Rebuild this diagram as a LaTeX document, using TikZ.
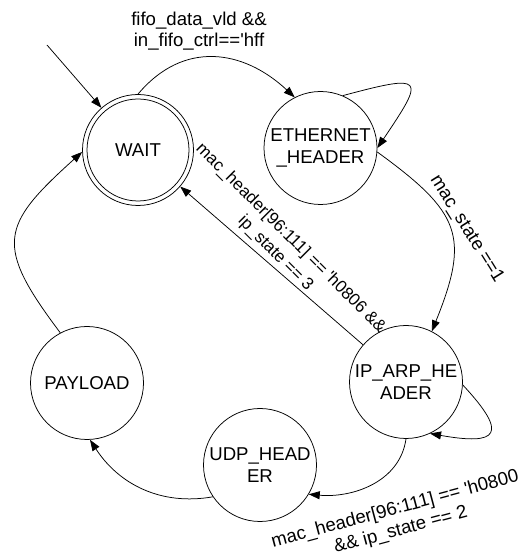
\documentclass[tikz,border=0pt]{standalone}
\usepackage{fontspec}
\setmainfont{Liberation Sans}
\usetikzlibrary{arrows.meta}
\begin{document}
\begin{tikzpicture}[x=1pt,y=1pt,
  state/.style={circle,draw,line width=0.75pt,minimum size=113pt,inner sep=0pt,
    align=center,font=\fontsize{18.6}{21.6}\selectfont},
  trans/.style={line width=0.75pt,-{Triangle[length=11pt,width=8pt]}},
  lbl/.style={inner sep=0pt,align=center,font=\fontsize{18.6}{21.6}\selectfont}]
\useasboundingbox (0,0) rectangle (521,555);

% states
\node[state,minimum size=111pt] (wait) at (138,405) {WAIT};
\draw[line width=0.75pt] (wait.center) circle[radius=51pt];
\node[state] (eth) at (320.5,407) {ETHERNET\\\_HEADER};
\node[state] (ip) at (406,173) {IP\_ARP\_HE\\ADER};
\node[state] (udp) at (260,90) {UDP\_HEAD\\ER};
\node[state] (pay) at (87,172) {PAYLOAD};

% initial transition
\coordinate (init) at (47,510);
\draw[trans] (init) -- (wait);

% transitions
\draw[trans] (wait.90) to[out=50,in=137,looseness=1.15] (eth.117);
\draw[trans] (eth.67) to[out=15,in=56,looseness=3.5] (eth.0);
\draw[trans] (eth.-4) to[out=-36,in=68,looseness=1.4] (ip.63);
\draw[trans] (ip) -- (wait);
\draw[trans] (ip.-3) to[out=-47,in=-10,looseness=3] (ip.-65);
\draw[trans] (ip.-90) to[out=-98,in=-5] (udp.-31);
\draw[trans] (udp.-146) to[out=190,in=-57] (pay.-87);
\draw[trans] (pay.118) to[out=127,in=-138,looseness=1.55] (wait.182);

% transition conditions
\node[lbl] (c1) at (199,524) {fifo\_data\_vld \&\&\\in\_fifo\_ctrl==\textquotesingle hff};
\node[lbl,rotate=-58] (c2) at (466.5,326) {mac\_state ==1};
\node[lbl,rotate=-45,font=\fontsize{17}{21.6}\selectfont] (c3) at (283,309)
  {mac\_header[96:111] == \textquotesingle h0806 \&\&\\ip\_state == 3};
\node[lbl,rotate=15] (c4) at (398,35) {mac\_header[96:111] == \textquotesingle h0800\\\&\& ip\_state == 2};
\end{tikzpicture}
\end{document}
